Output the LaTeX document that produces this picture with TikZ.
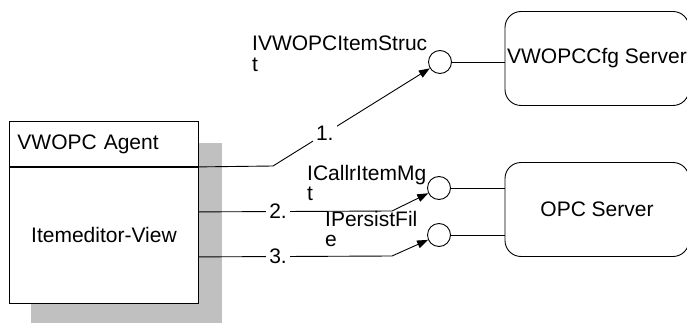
\documentclass[tikz,border=0pt]{standalone}
\usepackage{fontspec}
\setmainfont{Liberation Sans}
\usetikzlibrary{arrows.meta,positioning,calc}
\definecolor{shadowgray}{RGB}{192,192,192}
\newcommand{\diafont}{\fontsize{21}{20.5}\selectfont}
\tikzset{
  classbox/.style={
    draw=black,
    line width=0.9pt,
    fill=white,
    text width=173pt,
    inner xsep=8pt,
    inner ysep=0pt,
    anchor=north west
  },
  shade/.style={fill=shadowgray, inner sep=0pt, anchor=north west},
  server/.style={
    draw=black,
    line width=0.9pt,
    rounded corners=16pt,
    minimum width=184pt,
    minimum height=94pt,
    inner sep=0pt
  },
  lollipop/.style={circle, draw=black, line width=0.9pt, fill=white, minimum size=23pt, inner sep=0pt},
  call/.style={-{Triangle[length=11pt,width=8pt]}, line width=0.9pt},
  plain/.style={line width=0.9pt},
  num/.style={fill=white, inner sep=3pt},
  iface/.style={align=left, inner sep=0pt, anchor=north west}
}

\begin{document}
\begin{tikzpicture}[x=1pt, y=-1pt, font=\diafont]
  \useasboundingbox (0,0) rectangle (687,323);
  \node[shade, minimum width=191pt, minimum height=181pt] (shadow) at (31,143) {};
  \node[classbox, minimum height=45pt, align=left] (agenthead) at (9,121) {VWOPC Agent};
  \node[classbox, minimum height=136pt, align=center] (agentbody) at (agenthead.south west) {Itemeditor-View};
  \node[server] (cfg) at (597,58.5) {VWOPCCfg Server};
  \node[server] (opc) at (597,209.5) {OPC Server};
  \node[lollipop] (ifcfg) at (440,62) {};
  \node[lollipop] (ifmgt) at (439,188) {};
  \node[lollipop] (iffile) at (439,235) {};
  \draw[plain] (ifcfg) -- (ifcfg -| cfg.west);
  \draw[plain] (ifmgt) -- (ifmgt -| opc.west);
  \draw[plain] (iffile) -- (iffile -| opc.west);
  \coordinate (bend1) at (273,166);
  \coordinate (out2) at ($(agentbody.north east)+(0,45)$);
  \coordinate (bend2) at (392,211);
  \coordinate (out3) at ($(agentbody.north east)+(0,90)$);
  \coordinate (bend3) at (392,256);
  \draw[call] (agenthead.south east) -- (bend1) -- node[num, pos=0.33] {1.} (ifcfg);
  \draw[call] (out2) -- node[num, pos=0.41] {2.} (bend2) -- (ifmgt);
  \draw[call] (out3) -- node[num, pos=0.41] {3.} (bend3) -- (iffile);
  \node[iface] (lblcfg) at (252,36) {IVWOPCItemStruc\\t};
  \node[iface] (lblmgt) at (307,165) {ICallrItemMg\\t};
  \node[iface] (lblfile) at (325,211) {IPersistFil\\e};
\end{tikzpicture}
\end{document}
